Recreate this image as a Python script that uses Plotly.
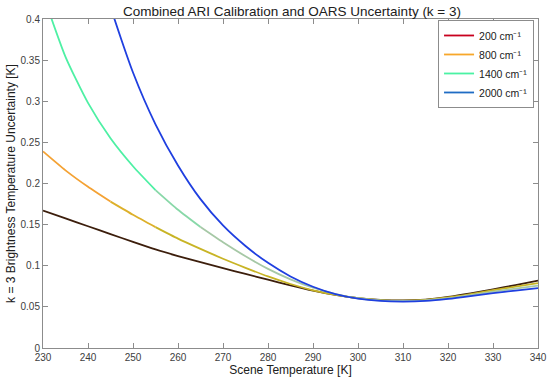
import plotly.graph_objects as go

temps = [230, 235, 240, 245, 250, 255, 260, 265, 270, 275, 280, 285, 290,
         295, 300, 305, 310, 315, 320, 325, 330, 335, 340]

u200 = [0.167, 0.1575, 0.148, 0.1385, 0.129, 0.1198, 0.1118, 0.1045, 0.0972, 0.0900,
        0.0830, 0.0762, 0.0698, 0.0645, 0.0606, 0.0585, 0.0578, 0.0588, 0.0620, 0.0663,
        0.0713, 0.0765, 0.0820]
u800 = [0.239, 0.216, 0.196, 0.178, 0.162, 0.147, 0.133, 0.1205, 0.1085, 0.0975,
        0.0870, 0.0778, 0.0702, 0.0646, 0.0606, 0.0583, 0.0576, 0.0585, 0.0615, 0.0656,
        0.0702, 0.0746, 0.0788]
u1400 = [0.43, 0.354, 0.298, 0.255, 0.221, 0.192, 0.168, 0.147, 0.1285, 0.1115,
         0.0962, 0.0835, 0.0733, 0.0656, 0.0605, 0.0580, 0.0573, 0.0580, 0.0605, 0.0643,
         0.0686, 0.0722, 0.0758]
u2000 = [0.80, 0.64, 0.515, 0.415, 0.335, 0.272, 0.222, 0.181, 0.149, 0.124,
         0.1035, 0.0870, 0.0745, 0.0655, 0.0600, 0.0572, 0.0565, 0.0572, 0.0596, 0.0630,
         0.0668, 0.0698, 0.0727]

names = ["200 cm⁻¹", "800 cm⁻¹", "1400 cm⁻¹", "2000 cm⁻¹"]
series = [u200, u800, u1400, u2000]
legend_colors = ["#c8001e", "#f7a72a", "#4af2a4", "#1f6cc4"]
# visible line colours per segment (segment boundaries are indices into temps)
segments = [
    [(0, 22, "#3c1e0c")],
    [(0, 3, "#f4a234"), (3, 5, "#ddb02a"), (5, 22, "#c8b425")],
    [(0, 5, "#4ef0a4"), (5, 7, "#88d8a8"), (7, 22, "#a6c8a6")],
    [(0, 22, "#1f3fe0")],
]

fig = go.Figure()
for ys, segs in zip(series, segments):
    for i0, i1, c in segs:
        fig.add_trace(go.Scatter(x=temps[i0:i1 + 1], y=ys[i0:i1 + 1], mode="lines",
                                 showlegend=False, hoverinfo="skip",
                                 line=dict(color=c, width=1.8, shape="spline", smoothing=0.6)))
for n, c in zip(names, legend_colors):
    fig.add_trace(go.Scatter(x=[None], y=[None], mode="lines", name=n,
                             line=dict(color=c, width=1.8)))

axis_common = dict(showline=True, linecolor="#8c8c8c", linewidth=1, mirror="ticks",
                   ticks="inside", ticklen=5, tickcolor="#8c8c8c", showgrid=False,
                   zeroline=False, automargin=False,
                   tickfont=dict(family="Liberation Sans, Arial", size=10, color="#404040"))

fig.update_layout(
    width=550, height=383,
    margin=dict(l=43, r=12, t=19, b=35),
    paper_bgcolor="white", plot_bgcolor="white",
    title=dict(text="Combined ARI Calibration and OARS Uncertainty (k = 3)",
               xref="paper", x=0.1616, xanchor="left",
               yref="container", y=0.982, yanchor="top",
               font=dict(family="Liberation Sans, Arial", size=13.5, color="#202020")),
    xaxis=dict(range=[230, 340], tickmode="linear", tick0=230, dtick=10,
               title=dict(text="Scene Temperature [K]", standoff=2,
                          font=dict(family="Liberation Sans, Arial", size=12, color="#202020")),
               **axis_common),
    yaxis=dict(range=[0, 0.4], tickmode="linear", tick0=0, dtick=0.05,
               title=dict(text="k = 3 Brightness Temperature Uncertainty [K]", standoff=2,
                          font=dict(family="Liberation Sans, Arial", size=12, color="#202020")),
               **axis_common),
    legend=dict(x=0.992, xanchor="right", y=0.997, yanchor="top",
                bgcolor="white", bordercolor="#8c8c8c", borderwidth=1,
                font=dict(family="Liberation Sans, Arial", size=10.5, color="#202020"),
                itemwidth=30, tracegroupgap=0),
)

fig.write_html("out.html", config={"displayModeBar": False},
               post_script="document.body.style.margin='0px';")
